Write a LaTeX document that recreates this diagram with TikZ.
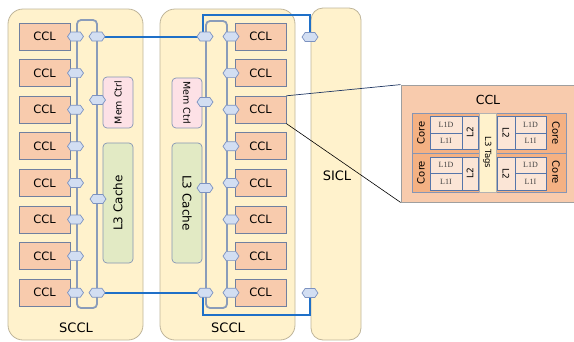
\documentclass[tikz,border=0pt]{standalone}
\usepackage{fontspec}
\setmainfont{DejaVu Sans}
\newfontfamily\cacheserif{Liberation Serif}
\usetikzlibrary{shapes.symbols}

\definecolor{scclfill}{HTML}{FFF2CC}
\definecolor{scclline}{HTML}{BFB59A}
\definecolor{cclfill}{HTML}{F8CBAD}
\definecolor{cclline}{HTML}{7080A0}
\definecolor{portfill}{HTML}{D2DEF2}
\definecolor{portline}{HTML}{7C92C0}
\definecolor{ringline}{HTML}{8A9CBA}
\definecolor{linkblue}{HTML}{1F70C8}
\definecolor{memfill}{HTML}{FDE1E6}
\definecolor{l3fill}{HTML}{E2EAC4}
\definecolor{corefill}{HTML}{F4B183}
\definecolor{cachefill}{HTML}{FBE5D6}
\definecolor{cacheline}{HTML}{5575AA}
\definecolor{grpline}{HTML}{8595B5}
\definecolor{tagfill}{HTML}{FFF2CC}
\definecolor{zoomline}{HTML}{203864}

\pgfdeclarelayer{bg}
\pgfdeclarelayer{fg}
\pgfsetlayers{bg,main,fg}

\newcommand{\fs}[1]{\fontsize{#1}{#1}\selectfont}

\tikzset{
  scclbox/.style={draw=scclline, fill=scclfill, rounded corners=15pt, line width=0.8pt, inner sep=0},
  cclbox/.style={draw=cclline, fill=cclfill, line width=0.8pt, minimum width=51pt, minimum height=27pt, inner sep=0, font=\fs{11.5}},
  port/.style={signal, signal to=east and west, signal pointer angle=110, draw=portline, fill=portfill,
               line width=0.7pt, minimum width=16pt, minimum height=9pt, inner sep=0},
  ringbox/.style={draw=ringline, line width=1.8pt, rounded corners=4pt, inner sep=0},
  memctrl/.style={draw=grpline, fill=memfill, line width=0.7pt, rounded corners=4pt, inner sep=0, font=\fs{9.5}},
  l3box/.style={draw=grpline, fill=l3fill, line width=0.7pt, rounded corners=4pt, inner sep=0, font=\fs{12}},
  link/.style={draw=linkblue, line width=2pt},
  biglabel/.style={inner sep=0, font=\fs{13}},
  panelbox/.style={draw=gray!75, fill=cclfill, line width=0.8pt, inner sep=0},
  coregrp/.style={draw=grpline, fill=corefill, line width=0.7pt, inner sep=0},
  cachebox/.style={draw=cacheline, fill=cachefill, line width=0.6pt, inner sep=0, font=\cacheserif\fs{8}, text=black!75},
  l2box/.style={draw=cacheline, fill=cachefill, line width=0.6pt, inner sep=0, font=\fs{9}},
  tagbox/.style={draw=gray!60, fill=tagfill, line width=0.6pt, inner sep=0, font=\fs{8.5}},
  corelabel/.style={inner sep=0, font=\fs{10}},
}

\begin{document}
\begin{tikzpicture}[x=1pt, y=-1pt]
\useasboundingbox (0,0) rectangle (574,341);

% containers
\begin{pgfonlayer}{bg}
  \node[scclbox, minimum width=135pt, minimum height=331pt] (lsccl) at (75.5,174.5) {};
  \node[scclbox, minimum width=135pt, minimum height=331pt] (msccl) at (227.5,174.5) {};
  \node[scclbox, rounded corners=12pt, minimum width=50pt, minimum height=332pt] (sicl) at (336,174) {};
  \node[panelbox, minimum width=179pt, minimum height=117pt] (panel) at (490.5,143.5) {};
\end{pgfonlayer}

\node[biglabel] (lscclname) at (76,328) {SCCL};
\node[biglabel] (mscclname) at (228,328) {SCCL};
\node[biglabel] (siclname) at (337,176) {SICL};

% ring buses
\node[ringbox, minimum width=20pt, minimum height=288pt] (lring) at (87,164) {};
\node[ringbox, minimum width=21pt, minimum height=287pt] (mring) at (216.5,164.5) {};

% core clusters and their ring stops
\foreach \i in {1,...,8} {
  \pgfmathsetmacro\yy{36.5+36.6*(\i-1)}
  \node[cclbox] (lc\i) at (44.5,\yy) {CCL};
  \node[cclbox] (mc\i) at (260.5,\yy) {CCL};
  \begin{pgfonlayer}{fg}
    \node[port] (lp\i) at (75.5,\yy) {};
    \node[port] (mp\i) at (231,\yy) {};
  \end{pgfonlayer}
}

% memory controllers and L3 slices
\node[memctrl, rotate=90, minimum width=51pt, minimum height=30pt] (lmem) at (118,102.5) {Mem Ctrl};
\node[l3box, rotate=90, minimum width=120pt, minimum height=30pt] (ll3) at (118,203) {L3 Cache};
\node[memctrl, rotate=-90, minimum width=50pt, minimum height=30pt] (mmem) at (187,103) {Mem Ctrl};
\node[l3box, rotate=-90, minimum width=120pt, minimum height=30pt] (ml3) at (187,203) {L3 Cache};

\begin{pgfonlayer}{fg}
  \node[port] (lr1) at (97,36.5) {};
  \node[port] (lrm) at (97.5,100) {};
  \node[port] (lrl) at (98,199) {};
  \node[port] (lr8) at (97,292.7) {};
  \node[port] (mr1) at (205,36.5) {};
  \node[port] (mrm) at (205,102) {};
  \node[port] (mrl) at (205,188) {};
  \node[port] (mr8) at (205,292.7) {};
  \node[port] (s1) at (310,37) {};
  \node[port] (s2) at (310,293) {};
\end{pgfonlayer}

% inter-cluster links, jogging round the outside of the second ring
\coordinate (topjog) at (202.5,15);
\coordinate (botjog) at (202.5,315);
\draw[link] (lr1.center) -| (topjog) -| (s1.center);
\draw[link] (lr8.center) -| (botjog) -| (s2.center);

% zoomed view of one CCL
\draw[zoomline, line width=0.7pt] (mc3.north east) -- (panel.north west);
\draw[black, line width=0.6pt] (mc3.south east) -- (panel.south west);

\node[biglabel, font=\fs{12.5}] (panelname) at (488,100) {CCL};

\node[coregrp, minimum width=67pt, minimum height=40pt] (gtl) at (445.5,133) {};
\node[coregrp, minimum width=67pt, minimum height=39pt] (gbl) at (445.5,172.5) {};
\node[coregrp, minimum width=70pt, minimum height=40pt] (gtr) at (531,133) {};
\node[coregrp, minimum width=70pt, minimum height=39pt] (gbr) at (531,172.5) {};
\node[tagbox, rotate=-90, minimum width=79pt, minimum height=17pt] (tags) at (487.5,152.5) {L3 Tags};

\node[corelabel, rotate=90] (ctl) at (421,133) {Core};
\node[corelabel, rotate=90] (cbl) at (421,172.5) {Core};
\node[corelabel, rotate=-90] (ctr) at (556,133) {Core};
\node[corelabel, rotate=-90] (cbr) at (556,172.5) {Core};

\node[cachebox, minimum width=32pt, minimum height=17pt] (dtl) at (446,124.5) {L1D};
\node[cachebox, minimum width=32pt, minimum height=16pt] (itl) at (446,141) {L1I};
\node[l2box, rotate=90, minimum width=33pt, minimum height=16pt] (l2tl) at (470,132.5) {L2};
\node[cachebox, minimum width=32pt, minimum height=16pt] (dbl) at (446,165) {L1D};
\node[cachebox, minimum width=32pt, minimum height=17pt] (ibl) at (446,181.5) {L1I};
\node[l2box, rotate=90, minimum width=33pt, minimum height=16pt] (l2bl) at (470,173.5) {L2};

\node[cachebox, minimum width=31pt, minimum height=17pt] (dtr) at (530.5,124.5) {L1D};
\node[cachebox, minimum width=31pt, minimum height=16pt] (itr) at (530.5,141) {L1I};
\node[l2box, rotate=-90, minimum width=33pt, minimum height=18pt] (l2tr) at (506,132.5) {L2};
\node[cachebox, minimum width=31pt, minimum height=16pt] (dbr) at (530.5,165) {L1D};
\node[cachebox, minimum width=31pt, minimum height=17pt] (ibr) at (530.5,181.5) {L1I};
\node[l2box, rotate=-90, minimum width=33pt, minimum height=18pt] (l2br) at (506,173.5) {L2};
\end{tikzpicture}
\end{document}
